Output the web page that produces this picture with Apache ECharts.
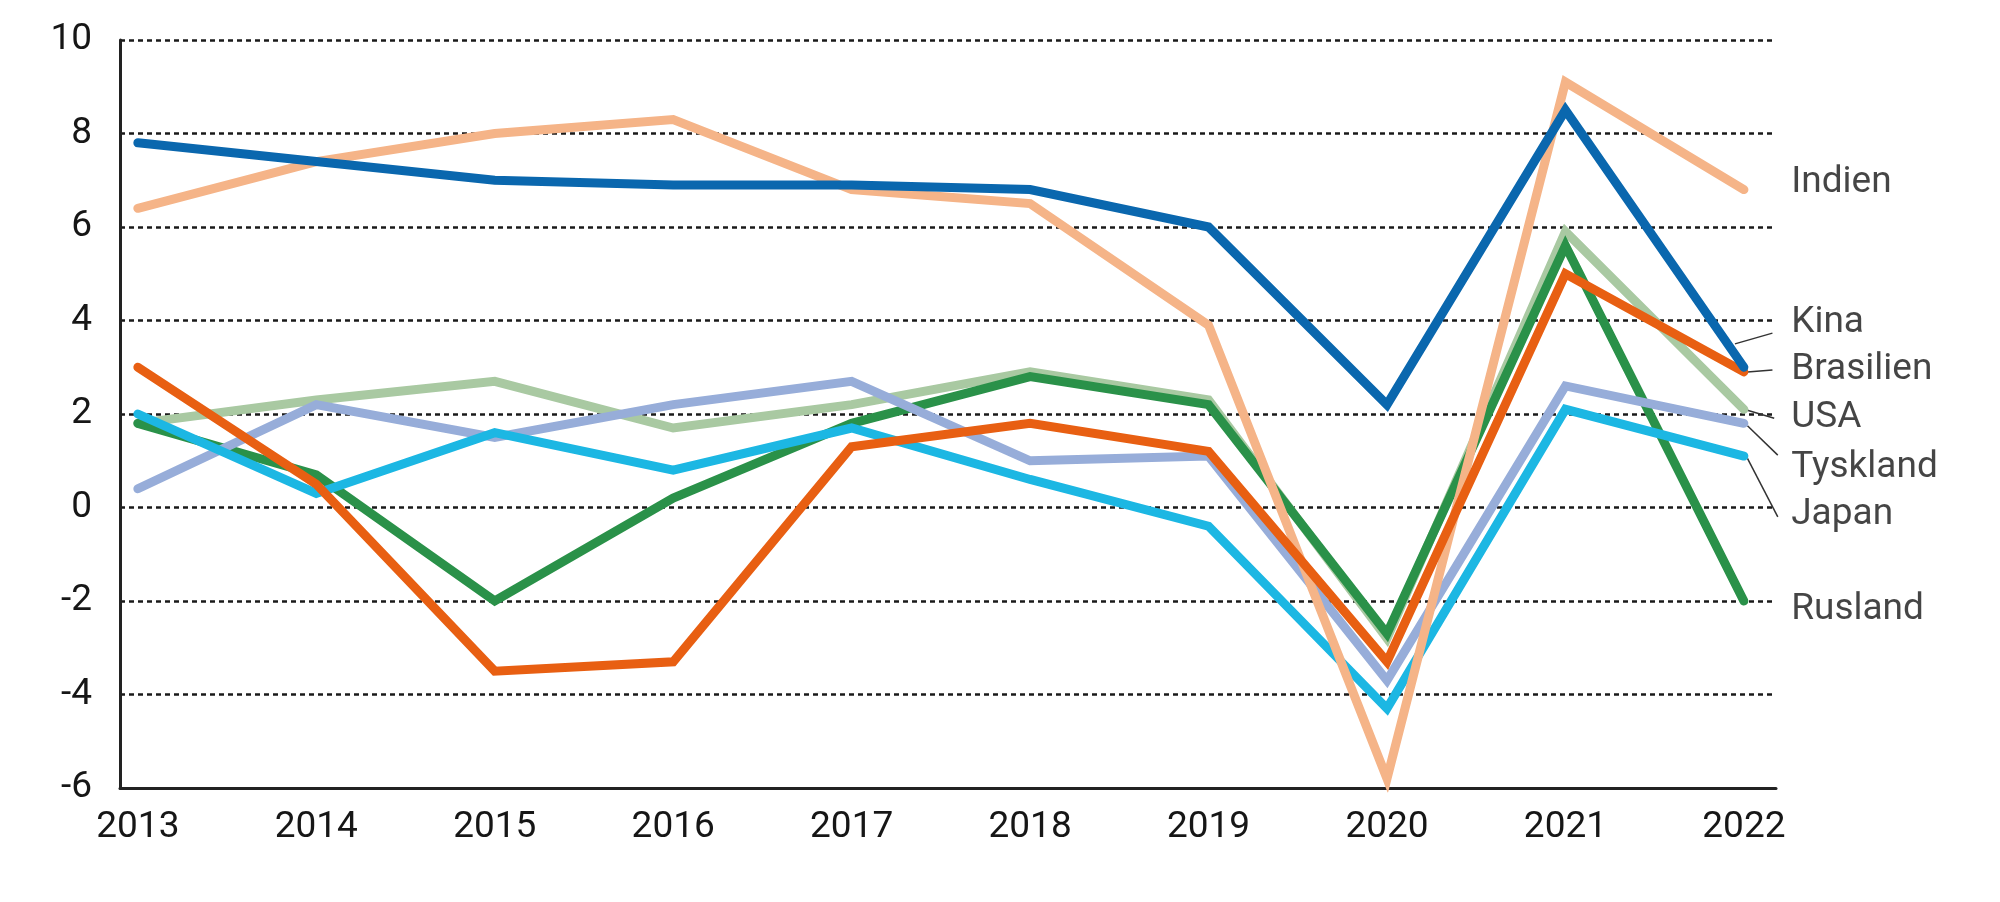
<!DOCTYPE html>
<html>
<head>
<meta charset="utf-8">
<script src="https://cdn.jsdelivr.net/npm/echarts@6/dist/echarts.min.js"></script>
<style>
  html, body { margin: 0; padding: 0; background: #fff; }
  #chart { width: 2000px; height: 902px; }
</style>
</head>
<body>
<div id="chart"></div>
<script>
// growth in % per year
const years = ['2013', '2014', '2015', '2016', '2017', '2018', '2019', '2020', '2021', '2022'];
const usa = [1.8, 2.3, 2.7, 1.7, 2.2, 2.9, 2.3, -2.8, 5.9, 2.1];
const rusland = [1.8, 0.7, -2.0, 0.2, 1.8, 2.8, 2.2, -2.7, 5.6, -2.0];
const tyskland = [0.4, 2.2, 1.5, 2.2, 2.7, 1.0, 1.1, -3.7, 2.6, 1.8];
const japan = [2.0, 0.3, 1.6, 0.8, 1.7, 0.6, -0.4, -4.3, 2.1, 1.1];
const indien = [6.4, 7.4, 8.0, 8.3, 6.8, 6.5, 3.9, -5.8, 9.1, 6.8];
const brasilien = [3.0, 0.5, -3.5, -3.3, 1.3, 1.8, 1.2, -3.3, 5.0, 2.9];
const kina = [7.8, 7.4, 7.0, 6.9, 6.9, 6.8, 6.0, 2.2, 8.5, 3.0];

// name labels on the right and their leader lines (x in year index, y in %)
const labelNames = ['Indien', 'Kina', 'Brasilien', 'USA', 'Tyskland', 'Japan', 'Rusland'];
const labelY = [6.94, 3.95, 2.94, 1.91, 0.86, -0.16, -2.19];
const leaders = [
  [[8.95, 3.5], [9.16, 3.73]],
  [[9.02, 2.9], [9.16, 2.94]],
  [[9.02, 2.08], [9.17, 1.91]],
  [[9.02, 1.75], [9.19, 1.12]],
  [[9.02, 1.05], [9.19, -0.2]]
];

const font = 'Roboto, "Liberation Sans", sans-serif';

const lineSeries = (name, values, color) => ({
  name: name,
  type: 'line',
  data: values.map((v, i) => [i, v]),
  symbol: 'none',
  lineStyle: { color: color, width: 9, cap: 'round', join: 'miter' },
  itemStyle: { color: color },
  silent: true,
  animation: false
});

const chart = echarts.init(document.getElementById('chart'));

chart.setOption({
  animation: false,
  grid: { left: 120, right: 224, top: 40, bottom: 114 },
  xAxis: {
    type: 'value',
    min: -0.1,
    max: 9.18,
    axisLine: { onZero: false, lineStyle: { color: '#222', width: 3 } },
    axisTick: { show: false },
    splitLine: { show: false },
    axisLabel: {
      customValues: years.map((y, i) => i),
      formatter: v => years[Math.round(v)],
      color: '#161616',
      fontFamily: font,
      fontSize: 37,
      margin: 21
    }
  },
  yAxis: {
    type: 'value',
    min: -6,
    max: 10,
    interval: 2,
    axisLine: { show: true, onZero: false, lineStyle: { color: '#222', width: 3 } },
    axisTick: { show: false },
    splitLine: {
      show: true,
      lineStyle: { color: '#1a1a1a', width: 2.5, type: [5, 4] }
    },
    axisLabel: {
      color: '#161616',
      fontFamily: font,
      fontSize: 37,
      margin: 28
    }
  },
  series: [
    lineSeries('USA', usa, '#a9c9a2'),
    lineSeries('Rusland', rusland, '#2a9149'),
    lineSeries('Tyskland', tyskland, '#97add9'),
    lineSeries('Japan', japan, '#1cb7e3'),
    lineSeries('Indien', indien, '#f5b488'),
    lineSeries('Brasilien', brasilien, '#e85f12'),
    lineSeries('Kina', kina, '#0a67ae'),
    {
      type: 'lines',
      coordinateSystem: 'cartesian2d',
      clip: false,
      silent: true,
      lineStyle: { color: '#333', width: 1.5, opacity: 1 },
      data: leaders.map(c => ({ coords: c })),
      z: 1
    },
    {
      type: 'scatter',
      clip: false,
      silent: true,
      symbolSize: 1,
      itemStyle: { color: 'rgba(0,0,0,0)' },
      data: labelNames.map((n, i) => ({ name: n, value: [9.24, labelY[i]] })),
      label: {
        show: true,
        position: 'right',
        distance: 4,
        formatter: p => p.name,
        color: '#161616',
        fontFamily: font,
        fontSize: 37
      }
    }
  ]
});
</script>
</body>
</html>
